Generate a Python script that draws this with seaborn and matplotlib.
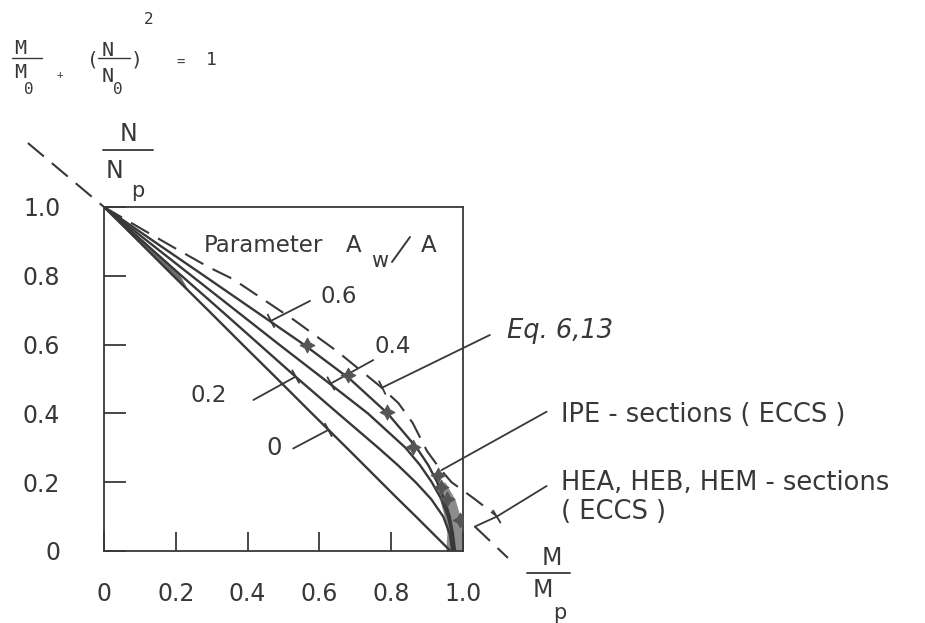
import numpy as np
import pandas as pd
import matplotlib
matplotlib.use("Agg")
import matplotlib.pyplot as plt
from matplotlib.lines import Line2D
import seaborn as sns

sns.set_theme(style="white")
plt.rcParams["font.family"] = ["DejaVu Sans"]

INK = "#383838"
W, H, DPI = 925, 623, 100

# N/Np levels shared by the interaction curves
n_levels = [1.0, 0.9, 0.8, 0.7, 0.6, 0.5, 0.4, 0.3, 0.25, 0.2, 0.15, 0.1, 0.05, 0.0]
# M/Mp for each web-area ratio Aw/A
m_aw00 = [0.0, 0.097, 0.193, 0.290, 0.386, 0.483, 0.579, 0.676, 0.724, 0.772, 0.820, 0.869, 0.917, 0.965]
m_aw02 = [0.0, 0.108, 0.216, 0.325, 0.433, 0.541, 0.652, 0.764, 0.818, 0.868, 0.912, 0.945, 0.963, 0.970]
m_aw04 = [0.0, 0.122, 0.244, 0.366, 0.488, 0.612, 0.735, 0.840, 0.880, 0.913, 0.940, 0.958, 0.969, 0.974]
m_aw06 = [0.0, 0.139, 0.279, 0.418, 0.557, 0.685, 0.790, 0.871, 0.903, 0.928, 0.948, 0.963, 0.972, 0.978]
aw_ratios = ["0", "0.2", "0.4", "0.6"]

# Eq. 6.13 (dashed)
eq_m = [0.0, 0.11, 0.19, 0.29, 0.36, 0.53, 0.65, 0.77, 0.82, 0.86, 0.90, 0.935, 0.968, 1.03, 1.09]
eq_n = [1.0, 0.933, 0.885, 0.826, 0.79, 0.671, 0.58, 0.478, 0.43, 0.372, 0.29, 0.24, 0.20, 0.153, 0.105]

# HEA, HEB, HEM sections (ECCS): straight dashed line, shown outside the frame
he_upper_m = [-0.212, 0.0]
he_upper_n = [1.186, 1.0]
he_lower_m = [1.033, 1.125]
he_lower_n = [0.071, -0.02]

# IPE sections (ECCS) test points
ipe_m = [0.565, 0.68, 0.787, 0.862, 0.931, 0.94, 0.955, 0.992]
ipe_n = [0.60, 0.512, 0.405, 0.303, 0.221, 0.187, 0.15, 0.09]

# ink build-up where the curves converge
shade_top_n = [1.0, 0.9, 0.8, 0.76]
shade_top_m0 = [0.0, 0.097, 0.193, 0.232]
shade_top_m1 = [0.0, 0.113, 0.212, 0.234]
shade_bot_n = [0.0, 0.05, 0.10, 0.15, 0.2]
shade_bot_m0 = [0.952, 0.955, 0.948, 0.935, 0.925]
shade_bot_m1 = [0.997, 0.997, 0.992, 0.978, 0.95]

curves = pd.DataFrame({
    "M": m_aw00 + m_aw02 + m_aw04 + m_aw06,
    "N": n_levels * 4,
    "Aw/A": sum([[r] * len(n_levels) for r in aw_ratios], []),
})

fig = plt.figure(figsize=(W / DPI, H / DPI), dpi=DPI)
fig.patch.set_facecolor("white")
ax = fig.add_axes([104 / W, 1 - 551 / H, 359 / W, 344 / H])
ax.set_xlim(0, 1)
ax.set_ylim(0, 1)

ax.fill_betweenx(shade_top_n, shade_top_m0, shade_top_m1, color="#6e6e6e", lw=0)
ax.fill_betweenx(shade_bot_n, shade_bot_m0, shade_bot_m1, color="#8c8c8c", lw=0)

sns.lineplot(data=curves, x="M", y="N", units="Aw/A", estimator=None, sort=False,
             color=INK, lw=1.7, ax=ax, legend=False)
DASH = (0, (10, 5))
ax.plot(eq_m, eq_n, color=INK, lw=1.5, ls=DASH, clip_on=False)
ax.plot(he_upper_m, he_upper_n, color=INK, lw=1.5, ls=DASH, clip_on=False)
ax.plot(he_lower_m, he_lower_n, color=INK, lw=1.5, ls=DASH, clip_on=False)
sns.scatterplot(x=ipe_m, y=ipe_n, marker=(4, 1, 0), s=110, color="#555555",
                edgecolor="#555555", linewidth=0.8, ax=ax, zorder=5)

for s in ax.spines.values():
    s.set_color(INK)
    s.set_linewidth(1.3)
ax.set_xticks([0, 0.2, 0.4, 0.6, 0.8, 1.0])
ax.set_xticklabels(["0", "0.2", "0.4", "0.6", "0.8", "1.0"])
ax.set_yticks([0, 0.2, 0.4, 0.6, 0.8, 1.0])
ax.set_yticklabels(["0", "0.2", "0.4", "0.6", "0.8", "1.0"])
ax.tick_params(axis="x", direction="in", length=14, width=1.3, color=INK,
               labelsize=17, labelcolor=INK, pad=22, bottom=True, top=False)
ax.tick_params(axis="y", direction="in", length=16, width=1.3, color=INK,
               labelsize=17, labelcolor=INK, pad=31.5, left=True, right=False)
ax.set_xlabel("")
ax.set_ylabel("")


def fxy(x, y):
    return x / W, 1 - y / H


def ftext(x, y, s, size=17, **kw):
    kw.setdefault("ha", "center")
    kw.setdefault("va", "center")
    fig.text(*fxy(x, y), s, fontsize=size, color=INK, **kw)


def fline(xs, ys, lw=1.3):
    fx = [x / W for x in xs]
    fy = [1 - y / H for y in ys]
    fig.add_artist(Line2D(fx, fy, color=INK, lw=lw, transform=fig.transFigure))


def leader(p0, p1, tick=7):
    """Leader from p0 to p1 (data coords) with a short cross tick at p1."""
    t = ax.transData
    a = t.transform(p0)
    b = t.transform(p1)
    d = (b - a) / np.hypot(*(b - a))
    nrm = np.array([-d[1], d[0]])
    inv = t.inverted()
    ax.plot([p0[0], p1[0]], [p0[1], p1[1]], color=INK, lw=1.3, clip_on=False)
    if tick:
        q0 = inv.transform(b + nrm * tick)
        q1 = inv.transform(b - nrm * tick)
        ax.plot([q0[0], q1[0]], [q0[1], q1[1]], color=INK, lw=1.3, clip_on=False)


# curve labels and leaders
ftext(321, 303, "0.6", 16.5, ha="left", va="baseline")
ftext(374, 353, "0.4", 16.5, ha="left", va="baseline")
ftext(191, 402, "0.2", 16.5, ha="left", va="baseline")
ftext(266, 455, "0", 17.5, ha="left", va="baseline")
leader((0.574, 0.727), (0.465, 0.669))
leader((0.75, 0.555), (0.632, 0.487))
leader((0.416, 0.439), (0.534, 0.507))
leader((0.527, 0.298), (0.625, 0.352))

ftext(204, 252, "Parameter", 16.5, ha="left", va="baseline")
ftext(346, 252, "A", 16.5, ha="left", va="baseline")
ftext(371, 267, "w", 15, ha="left", va="baseline")
fline([392, 410], [262, 237], lw=1.4)
ftext(421, 252, "A", 16.5, ha="left", va="baseline")

# right-hand annotations
ftext(507, 338, "Eq. 6,13", 18.5, ha="left", va="baseline", style="italic")
leader((1.075, 0.628), (0.775, 0.475))
ftext(561, 421.5, "IPE - sections ( ECCS )", 18.5, ha="left", va="baseline")
leader((1.233, 0.405), (0.94, 0.235), tick=0)
ftext(561, 490, "HEA, HEB, HEM - sections", 18.5, ha="left", va="baseline")
ftext(561, 519, "( ECCS )", 18.5, ha="left", va="baseline")
leader((1.233, 0.189), (1.094, 0.100), tick=7)
leader((1.094, 0.100), (1.033, 0.071), tick=0)

# axis quantity labels
ftext(128.5, 134, "N", 17)
fline([103, 153], [150, 150])
ftext(115, 171, "N", 17)
ftext(138, 191, "p", 15)
ftext(551.5, 558, "M", 17)
fline([527, 570], [573, 573])
ftext(542.5, 590, "M", 17)
ftext(560, 613, "p", 15)

# interaction formula
mono = "DejaVu Sans Mono"
ftext(20, 49, "M", 14.5, family=mono)
fline([12, 42], [57.5, 57.5], lw=1.0)
ftext(20, 72.5, "M", 14.5, family=mono)
ftext(29, 89, "0", 11.5, family=mono)
ftext(60, 75, "+", 8, family=mono)
ftext(93, 60, "(", 14, family=mono)
ftext(107.5, 50, "N", 14.5, family=mono)
fline([98, 130], [58, 58], lw=1.0)
ftext(107.5, 76, "N", 14.5, family=mono)
ftext(117.5, 89, "0", 11.5, family=mono)
ftext(137, 60, ")", 14, family=mono)
ftext(149, 19, "2", 11.5, family=mono)
ftext(181, 62.5, "=", 10, family=mono)
ftext(211, 60, "1", 13, family=mono)

fig.savefig("out.png", dpi=DPI, facecolor="white")
